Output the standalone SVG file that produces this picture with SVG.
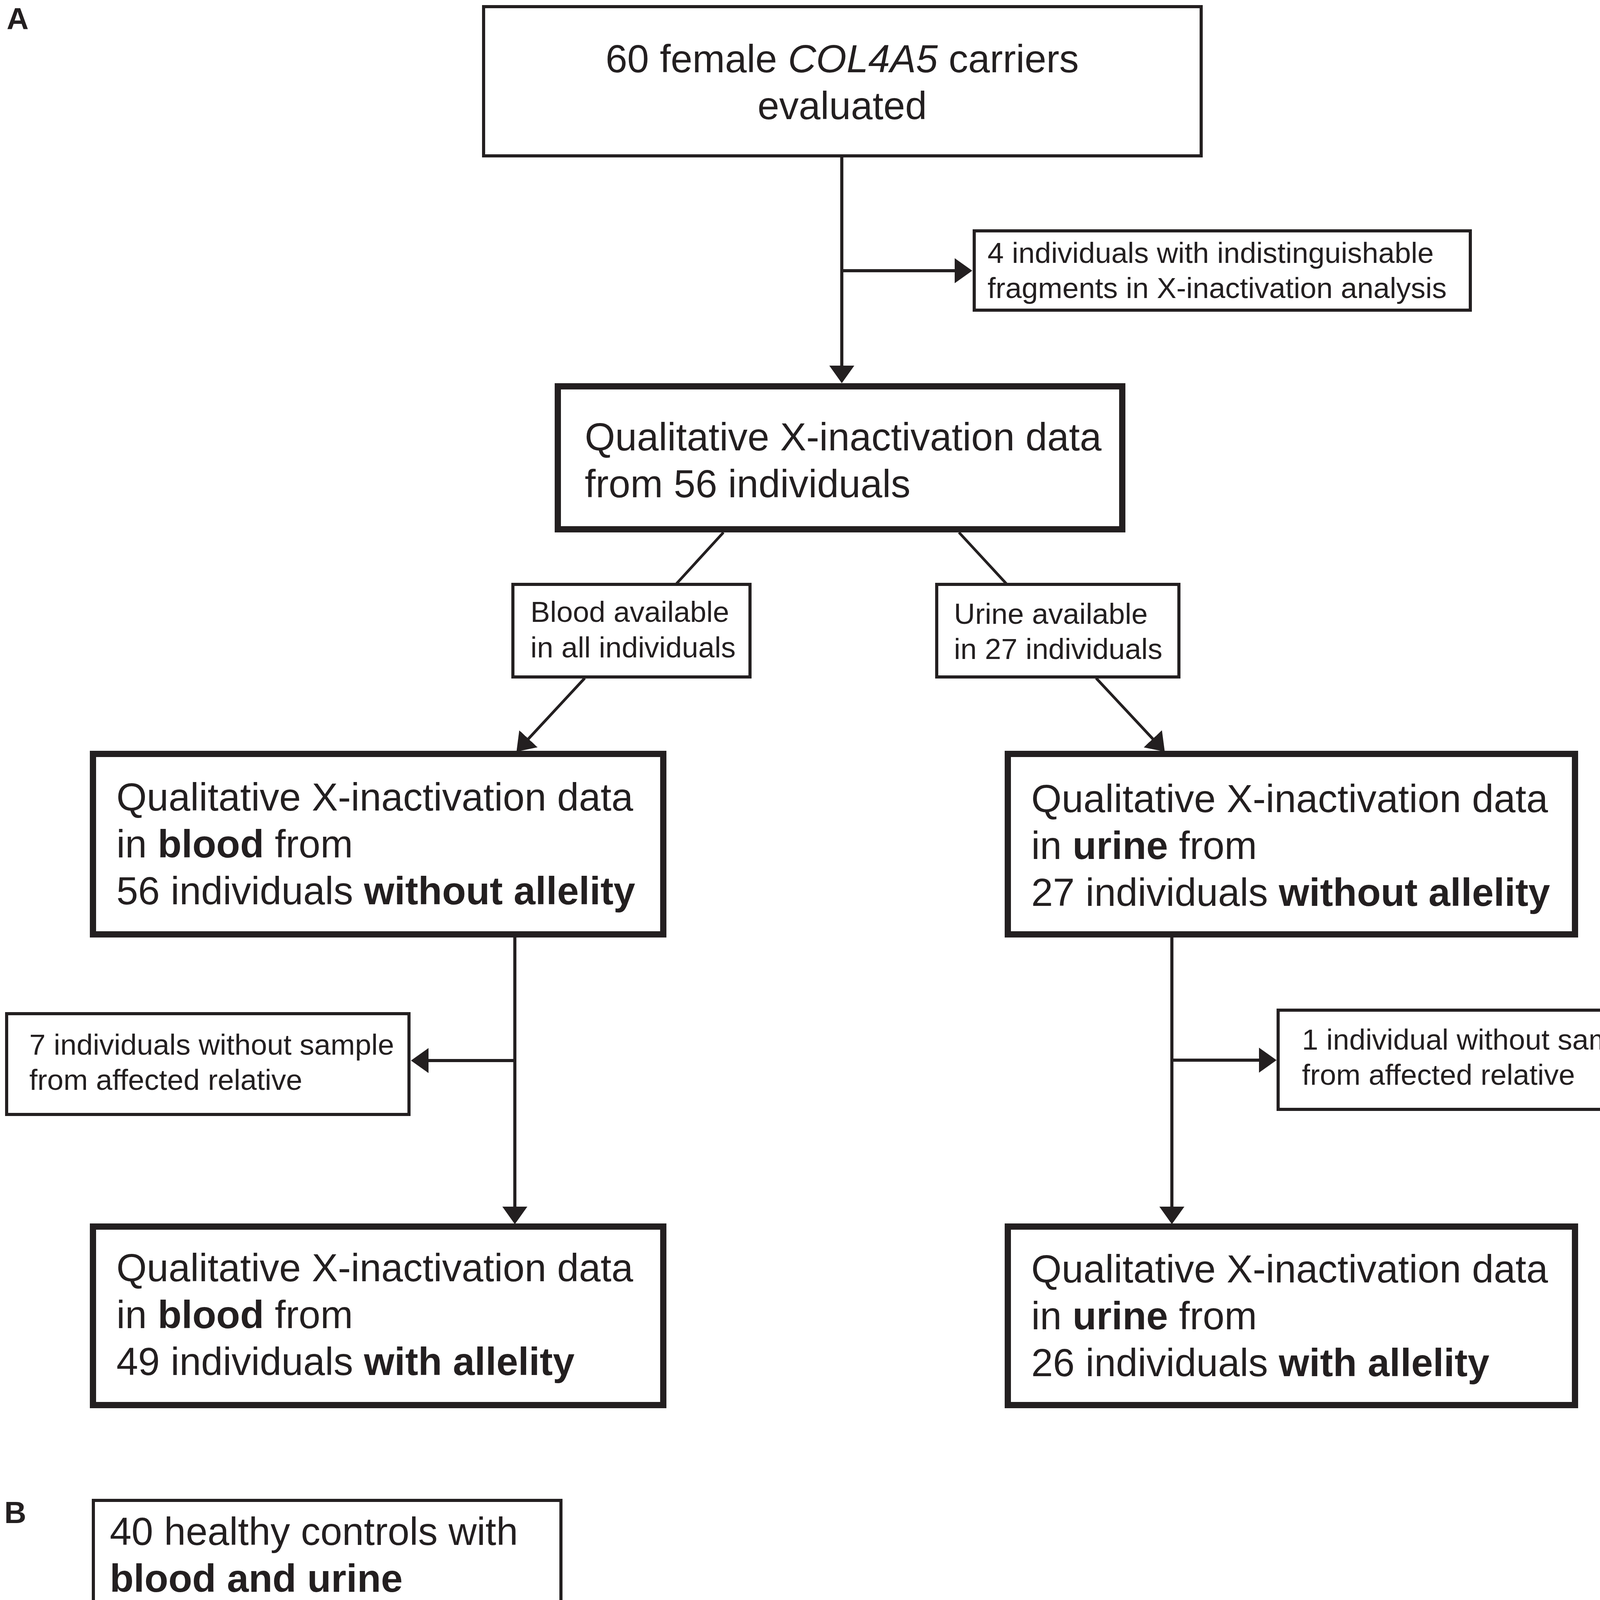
<svg xmlns="http://www.w3.org/2000/svg" width="4317" height="5037" viewBox="0 0 4317 5037">
<style>
.box{fill:#ffffff;stroke:#231f20}
.thin{stroke-width:8}
.thick{stroke-width:16}
.t{font-family:"Liberation Sans",Arial,Helvetica,sans-serif;fill:#231f20}
.big{font-size:100px}
.small{font-size:75px}
.b{font-weight:bold}
.i{font-style:italic}
.conn{stroke:#231f20;stroke-width:8;fill:none}
.diag{stroke:#231f20;stroke-width:7;fill:none}
</style>
<defs>
<marker id="ah" markerUnits="userSpaceOnUse" viewBox="0 0 46 66" markerWidth="46" markerHeight="66" refX="35" refY="33" orient="auto">
<path d="M0,1 L45,33 L0,65 Z" fill="#231f20"/>
</marker>
</defs>
<rect width="4317" height="5037" fill="#ffffff"/>
<text class="t b" x="17" y="75" font-size="78">A</text>
<text class="t b" x="11" y="3899" font-size="78">B</text>
<g id="connectors">
<line class="conn" x1="2155" y1="399" x2="2155" y2="971" marker-end="url(#ah)"/>
<line class="conn" x1="2155" y1="693" x2="2479" y2="693" marker-end="url(#ah)"/>
<line class="diag" x1="1852" y1="1363" x2="1732" y2="1494"/>
<line class="diag" x1="2455" y1="1363" x2="2576" y2="1494"/>
<line class="diag" x1="1497" y1="1736" x2="1329" y2="1917" marker-end="url(#ah)"/>
<line class="diag" x1="2806" y1="1736" x2="2975" y2="1917" marker-end="url(#ah)"/>
<line class="conn" x1="1318" y1="2396" x2="1318" y2="3124" marker-end="url(#ah)"/>
<line class="conn" x1="1318" y1="2715" x2="1062" y2="2715" marker-end="url(#ah)"/>
<line class="conn" x1="3000" y1="2396" x2="3000" y2="3124" marker-end="url(#ah)"/>
<line class="conn" x1="3000" y1="2714" x2="3258" y2="2714" marker-end="url(#ah)"/>
<line class="conn" x1="612" y1="4116" x2="612" y2="4648" marker-end="url(#ah)"/>
<line class="conn" x1="612" y1="4388" x2="939" y2="4388" marker-end="url(#ah)"/>
</g>
<g id="n_carriers">
<rect class="box thin" x="1238" y="17" width="1837" height="382"/>
<text class="t big" x="2156" y="185" text-anchor="middle">60 female <tspan class="i">COL4A5</tspan> carriers</text>
<text class="t big" x="2156" y="305" text-anchor="middle">evaluated</text>
</g>
<g id="n_excl4">
<rect class="box thin" x="2494" y="591" width="1270" height="203"/>
<text class="t small" x="2528" y="673">4 individuals with indistinguishable</text>
<text class="t small" x="2528" y="763">fragments in X-inactivation analysis</text>
</g>
<g id="n_qual56">
<rect class="box thick" x="1428" y="989" width="1445" height="366"/>
<text class="t big" x="1497" y="1153">Qualitative X-inactivation data</text>
<text class="t big" x="1497" y="1273">from 56 individuals</text>
</g>
<g id="n_blood_avail">
<rect class="box thin" x="1313" y="1496" width="607" height="237"/>
<text class="t small" x="1358" y="1592">Blood available</text>
<text class="t small" x="1358" y="1683">in all individuals</text>
</g>
<g id="n_urine_avail">
<rect class="box thin" x="2398" y="1496" width="620" height="237"/>
<text class="t small" x="2442" y="1597">Urine available</text>
<text class="t small" x="2442" y="1687">in 27 individuals</text>
</g>
<g id="n_blood56">
<rect class="box thick" x="238" y="1930" width="1460" height="462"/>
<text class="t big" x="298" y="2075">Qualitative X-inactivation data</text>
<text class="t big" x="298" y="2195">in <tspan class="b">blood</tspan> from</text>
<text class="t big" x="298" y="2315">56 individuals <tspan class="b">without allelity</tspan></text>
</g>
<g id="n_urine27">
<rect class="box thick" x="2580" y="1930" width="1452" height="462"/>
<text class="t big" x="2640" y="2079">Qualitative X-inactivation data</text>
<text class="t big" x="2640" y="2199">in <tspan class="b">urine</tspan> from</text>
<text class="t big" x="2640" y="2319">27 individuals <tspan class="b">without allelity</tspan></text>
</g>
<g id="n_excl7">
<rect class="box thin" x="17" y="2595" width="1030" height="258"/>
<text class="t small" x="75" y="2700">7 individuals without sample</text>
<text class="t small" x="75" y="2790">from affected relative</text>
</g>
<g id="n_excl1">
<rect class="box thin" x="3272" y="2586" width="1032" height="254"/>
<text class="t small" x="3333" y="2687">1 individual without sample</text>
<text class="t small" x="3333" y="2777">from affected relative</text>
</g>
<g id="n_blood49">
<rect class="box thick" x="238" y="3140" width="1460" height="457"/>
<text class="t big" x="298" y="3280">Qualitative X-inactivation data</text>
<text class="t big" x="298" y="3400">in <tspan class="b">blood</tspan> from</text>
<text class="t big" x="298" y="3520">49 individuals <tspan class="b">with allelity</tspan></text>
</g>
<g id="n_urine26">
<rect class="box thick" x="2580" y="3140" width="1452" height="457"/>
<text class="t big" x="2640" y="3283">Qualitative X-inactivation data</text>
<text class="t big" x="2640" y="3403">in <tspan class="b">urine</tspan> from</text>
<text class="t big" x="2640" y="3523">26 individuals <tspan class="b">with allelity</tspan></text>
</g>
<g id="n_controls40">
<rect class="box thin" x="239" y="3841" width="1197" height="273"/>
<text class="t big" x="281" y="3955">40 healthy controls with</text>
<text class="t big b" x="281" y="4075">blood and urine</text>
</g>
<g id="n_excl5">
<rect class="box thin" x="953" y="4287" width="1461" height="200"/>
<text class="t small" x="985" y="4367">5 controls with indistinguishable fragments</text>
<text class="t small" x="985" y="4457">in X-inactivation analysis</text>
</g>
<g id="n_controls35">
<rect class="box thin" x="240" y="4662" width="1880" height="364"/>
<text class="t big" x="305" y="4824">Qualitative X-inactivation data</text>
<text class="t big" x="305" y="4944">in <tspan class="b">blood</tspan> and <tspan class="b">urine</tspan> from 35 controls</text>
</g>
</svg>
